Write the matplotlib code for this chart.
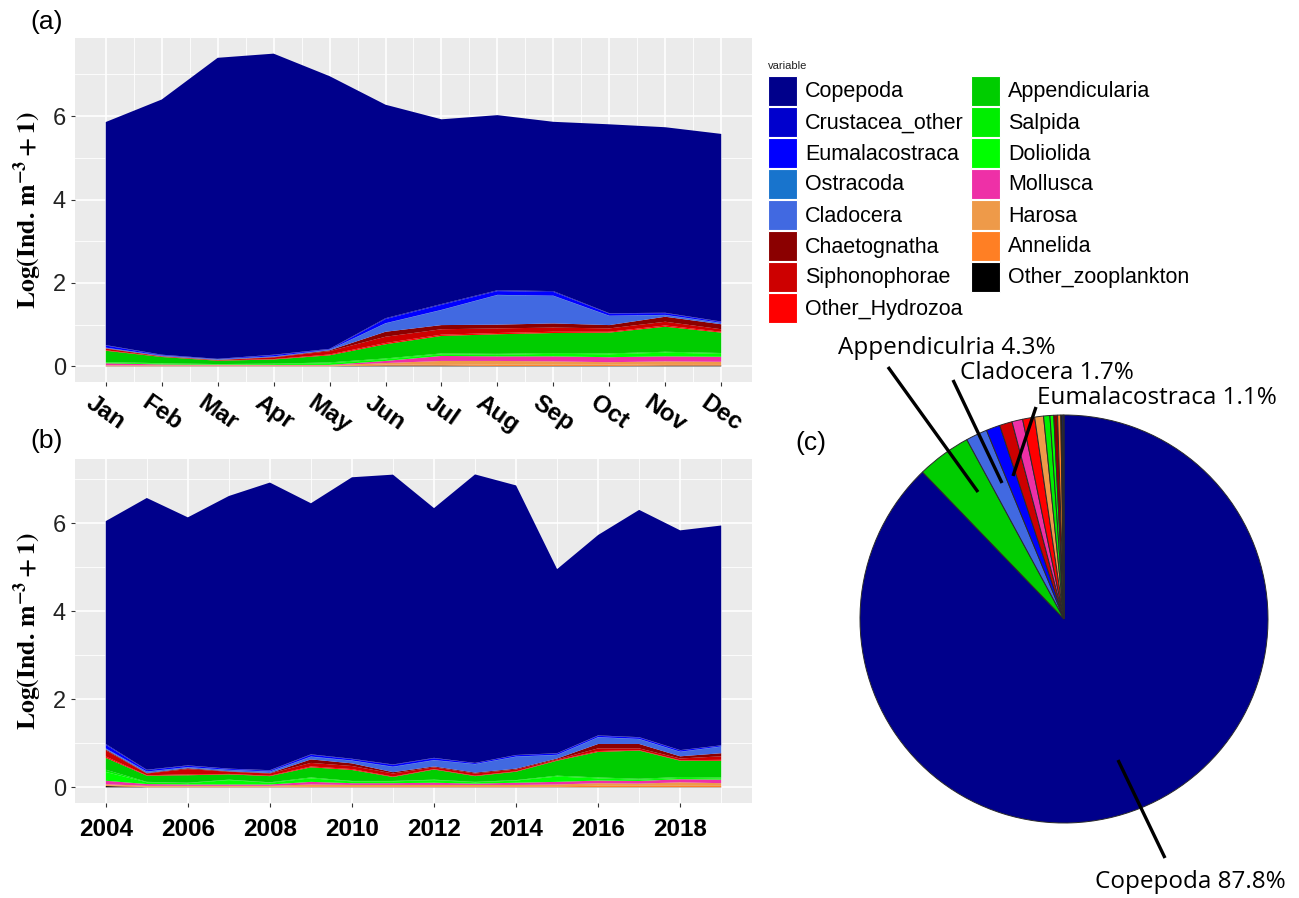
import matplotlib
matplotlib.use("Agg")
import matplotlib.pyplot as plt
from matplotlib.patches import Rectangle

plt.rcParams["font.family"] = ["Liberation Sans", "DejaVu Sans"]
plt.rcParams["mathtext.fontset"] = "stix"

# ---- dados ----
months = ["Jan", "Feb", "Mar", "Apr", "May", "Jun", "Jul", "Aug", "Sep", "Oct", "Nov", "Dec"]
month_idx = list(range(1, 13))
years = list(range(2004, 2020))

taxa = ["Copepoda", "Crustacea_other", "Eumalacostraca", "Ostracoda", "Cladocera",
        "Chaetognatha", "Siphonophorae", "Other_Hydrozoa", "Appendicularia", "Salpida",
        "Doliolida", "Mollusca", "Harosa", "Annelida", "Other_zooplankton"]
taxa_colors = ["#00008B", "#0000CD", "#0000FF", "#1874CD", "#4169E1",
               "#8B0000", "#CD0000", "#FF0000", "#00CD00", "#00EE00",
               "#00FF00", "#EE30A7", "#EE9A49", "#FF7F24", "#000000"]

# (a) media mensal, Log(Ind m-3 + 1)
m_copepoda = [5.35, 6.12, 7.22, 7.22, 6.54, 5.12, 4.43, 4.20, 4.06, 4.53, 4.45, 4.50]
m_crustacea = [0.01, 0.01, 0.005, 0.01, 0.01, 0.02, 0.02, 0.02, 0.02, 0.01, 0.01, 0.01]
m_eumalacostraca = [0.05, 0.01, 0.005, 0.03, 0.01, 0.10, 0.12, 0.09, 0.09, 0.05, 0.04, 0.02]
m_ostracoda = [0.005] * 12
m_cladocera = [0.01, 0.01, 0.01, 0.01, 0.01, 0.20, 0.36, 0.71, 0.66, 0.22, 0.04, 0.03]
m_chaetognatha = [0.01, 0.005, 0.005, 0.01, 0.02, 0.12, 0.10, 0.09, 0.10, 0.08, 0.12, 0.12]
m_siphonophorae = [0.04, 0.01, 0.01, 0.04, 0.08, 0.15, 0.13, 0.11, 0.10, 0.08, 0.09, 0.06]
m_hydrozoa = [0.01, 0.005, 0.005, 0.01, 0.02, 0.03, 0.03, 0.03, 0.03, 0.02, 0.03, 0.02]
m_appendicularia = [0.27, 0.15, 0.08, 0.10, 0.17, 0.34, 0.42, 0.47, 0.48, 0.50, 0.60, 0.49]
m_salpida = [0.01, 0.01, 0.01, 0.01, 0.02, 0.02, 0.02, 0.02, 0.02, 0.02, 0.02, 0.02]
m_doliolida = [0.02, 0.02, 0.01, 0.02, 0.04, 0.04, 0.04, 0.04, 0.06, 0.07, 0.09, 0.07]
m_mollusca = [0.05, 0.02, 0.01, 0.01, 0.01, 0.05, 0.12, 0.11, 0.12, 0.12, 0.12, 0.12]
m_harosa = [0.01, 0.01, 0.01, 0.01, 0.01, 0.04, 0.08, 0.09, 0.08, 0.06, 0.07, 0.06]
m_annelida = [0.01, 0.01, 0.01, 0.01, 0.01, 0.02, 0.03, 0.03, 0.03, 0.03, 0.03, 0.03]
m_other = [0.005, 0.005, 0.005, 0.005, 0.005, 0.02, 0.02, 0.01, 0.01, 0.01, 0.02, 0.02]

# (b) media anual
y_copepoda = [5.06, 6.17, 5.63, 6.19, 6.53, 5.70, 6.39, 6.58, 5.67, 6.55, 6.12, 4.18, 4.55, 5.16, 4.99, 4.99]
y_crustacea = [0.02, 0.01, 0.01, 0.005, 0.01, 0.01, 0.01, 0.01, 0.01, 0.005, 0.005, 0.005, 0.01, 0.01, 0.005, 0.005]
y_eumalacostraca = [0.08, 0.03, 0.03, 0.02, 0.02, 0.04, 0.03, 0.04, 0.04, 0.02, 0.03, 0.03, 0.03, 0.03, 0.03, 0.02]
y_ostracoda = [0.005] * 16
y_cladocera = [0.02, 0.03, 0.02, 0.03, 0.03, 0.06, 0.06, 0.12, 0.14, 0.19, 0.27, 0.08, 0.15, 0.11, 0.10, 0.15]
y_chaetognatha = [0.02, 0.01, 0.02, 0.01, 0.01, 0.08, 0.06, 0.03, 0.02, 0.02, 0.02, 0.02, 0.10, 0.10, 0.05, 0.07]
y_siphonophorae = [0.14, 0.04, 0.12, 0.05, 0.05, 0.08, 0.07, 0.07, 0.04, 0.05, 0.04, 0.02, 0.06, 0.04, 0.04, 0.08]
y_hydrozoa = [0.03, 0.01, 0.02, 0.01, 0.01, 0.02, 0.02, 0.01, 0.01, 0.01, 0.01, 0.01, 0.02, 0.01, 0.01, 0.02]
y_appendicularia = [0.27, 0.14, 0.17, 0.12, 0.14, 0.23, 0.25, 0.09, 0.23, 0.13, 0.19, 0.34, 0.58, 0.64, 0.37, 0.38]
y_salpida = [0.05, 0.01, 0.01, 0.01, 0.01, 0.02, 0.01, 0.01, 0.01, 0.01, 0.01, 0.02, 0.02, 0.02, 0.02, 0.02]
y_doliolida = [0.20, 0.04, 0.03, 0.10, 0.04, 0.08, 0.04, 0.04, 0.06, 0.03, 0.05, 0.12, 0.05, 0.03, 0.03, 0.03]
y_mollusca = [0.08, 0.04, 0.03, 0.03, 0.03, 0.06, 0.04, 0.04, 0.05, 0.03, 0.05, 0.06, 0.06, 0.06, 0.07, 0.08]
y_harosa = [0.02, 0.02, 0.02, 0.02, 0.02, 0.04, 0.03, 0.03, 0.03, 0.03, 0.03, 0.04, 0.06, 0.05, 0.08, 0.06]
y_annelida = [0.02, 0.01, 0.01, 0.01, 0.01, 0.02, 0.02, 0.02, 0.02, 0.02, 0.02, 0.02, 0.03, 0.03, 0.03, 0.03]
y_other = [0.03, 0.005, 0.005, 0.005, 0.005, 0.005, 0.005, 0.005, 0.005, 0.005, 0.005, 0.005, 0.005, 0.005, 0.005, 0.005]

# (c) composicao total (%), sentido horario a partir do topo
pie_taxa = ["Copepoda", "Appendicularia", "Cladocera", "Eumalacostraca", "Siphonophorae",
            "Mollusca", "Other_Hydrozoa", "Harosa", "Salpida", "Doliolida", "Chaetognatha",
            "Annelida", "Other_zooplankton", "Crustacea_other", "Ostracoda"]
pie_pct = [87.8, 4.3, 1.7, 1.1, 1.0, 0.85, 0.95, 0.7, 0.5, 0.3, 0.3, 0.25, 0.1, 0.1, 0.05]

monthly = [m_copepoda, m_crustacea, m_eumalacostraca, m_ostracoda, m_cladocera,
           m_chaetognatha, m_siphonophorae, m_hydrozoa, m_appendicularia, m_salpida,
           m_doliolida, m_mollusca, m_harosa, m_annelida, m_other]
yearly = [y_copepoda, y_crustacea, y_eumalacostraca, y_ostracoda, y_cladocera,
          y_chaetognatha, y_siphonophorae, y_hydrozoa, y_appendicularia, y_salpida,
          y_doliolida, y_mollusca, y_harosa, y_annelida, y_other]

W, H = 1299, 898
fig = plt.figure(figsize=(W / 100, H / 100), dpi=100)


def px_axes(x0, y0, x1, y1):
    # caixa em pixels da imagem (origem no topo) -> fração da figura
    return fig.add_axes([x0 / W, 1 - y1 / H, (x1 - x0) / W, (y1 - y0) / H])


def estilo_gg(ax):
    ax.set_facecolor("#EBEBEB")
    for s in ax.spines.values():
        s.set_visible(False)
    ax.grid(which="major", color="white", linewidth=1.2)
    ax.grid(which="minor", color="white", linewidth=0.6)
    ax.set_axisbelow(True)
    ax.tick_params(which="major", length=3, width=0.8, color="#333333", labelsize=17,
                   labelcolor="#222222")
    ax.tick_params(which="minor", length=0)
    ax.set_yticks([0, 2, 4, 6])
    ax.set_yticks([1, 3, 5, 7], minor=True)
    ax.set_ylabel(r"$\mathbf{Log(Ind.\,m^{-3}+1)}$", fontsize=18.5, labelpad=6)


# ordem do ggplot: primeiro nível no topo da pilha
cores_stack = taxa_colors[::-1]

ax_a = px_axes(75, 38, 752, 382)
ax_a.stackplot(month_idx, monthly[::-1], colors=cores_stack, linewidth=0)
estilo_gg(ax_a)
ax_a.set_xlim(0.45, 12.55)
ax_a.set_ylim(-0.375, 7.875)
ax_a.set_xticks(month_idx)
ax_a.set_xticks([m + 0.5 for m in month_idx[:-1]], minor=True)
ax_a.set_xticklabels(months, rotation=-35, ha="center", va="top", fontweight="bold",
                     color="black", fontsize=17.5)

ax_b = px_axes(75, 459, 752, 803)
ax_b.stackplot(years, yearly[::-1], colors=cores_stack, linewidth=0)
estilo_gg(ax_b)
ax_b.set_xlim(2003.25, 2019.75)
ax_b.set_ylim(-0.355, 7.455)
ax_b.set_xticks(list(range(2004, 2019, 2)))
ax_b.set_xticks(list(range(2005, 2020, 2)), minor=True)
ax_b.set_xticklabels([str(a) for a in range(2004, 2019, 2)], fontweight="bold", color="black",
                     fontsize=17.5)
ax_b.tick_params(axis="x", pad=8)

# pizza
ax_c = px_axes(860, 415, 1268, 823)
cor_de = dict(zip(taxa, taxa_colors))
ax_c.pie(pie_pct, colors=[cor_de[t] for t in pie_taxa], startangle=90, counterclock=False,
         wedgeprops=dict(edgecolor="#2a2a2a", linewidth=0.7))
ax_c.set_xlim(-1, 1)
ax_c.set_ylim(-1, 1)
ax_c.set_aspect("equal")

# camada em pixels para legenda, rótulos e linhas de chamada
ov = fig.add_axes([0, 0, 1, 1], zorder=5)
ov.set_xlim(0, W)
ov.set_ylim(H, 0)
ov.axis("off")

ov.text(30, 22, "(a)", fontsize=19, va="center", ha="left")
ov.text(30, 441, "(b)", fontsize=19, va="center", ha="left")
ov.text(795, 443, "(c)", fontsize=19, va="center", ha="left")

# legenda
ov.text(768, 66, "variable", fontsize=8, va="center", ha="left", color="#222222")
for i, (nome, cor) in enumerate(zip(taxa, taxa_colors)):
    col, lin = (0, i) if i < 8 else (1, i - 8)
    x0 = 768 + col * 203
    y0 = 76 + lin * 31
    ov.add_patch(Rectangle((x0, y0), 29, 30, facecolor=cor, edgecolor="white", linewidth=0.8))
    ov.text(x0 + 37, y0 + 16, nome, fontsize=15.5, va="center", ha="left")

# rótulos da pizza
rot_pizza = [("Appendiculria 4.3%", 838, 348, (888, 367), (978, 492)),
             ("Cladocera 1.7%", 960, 373, (953, 380), (1002, 483)),
             ("Eumalacostraca 1.1%", 1037, 398, (1036, 407), (1013, 476)),
             ("Copepoda 87.8%", 1095, 882, (1118, 760), (1165, 858))]
for txt, tx, ty, p0, p1 in rot_pizza:
    ov.text(tx, ty, txt, fontsize=17.5, family=["Open Sans", "DejaVu Sans"],
            va="center", ha="left")
    ov.plot([p0[0], p1[0]], [p0[1], p1[1]], color="black", linewidth=2.4,
            solid_capstyle="butt")

fig.savefig("out.png", dpi=100)
